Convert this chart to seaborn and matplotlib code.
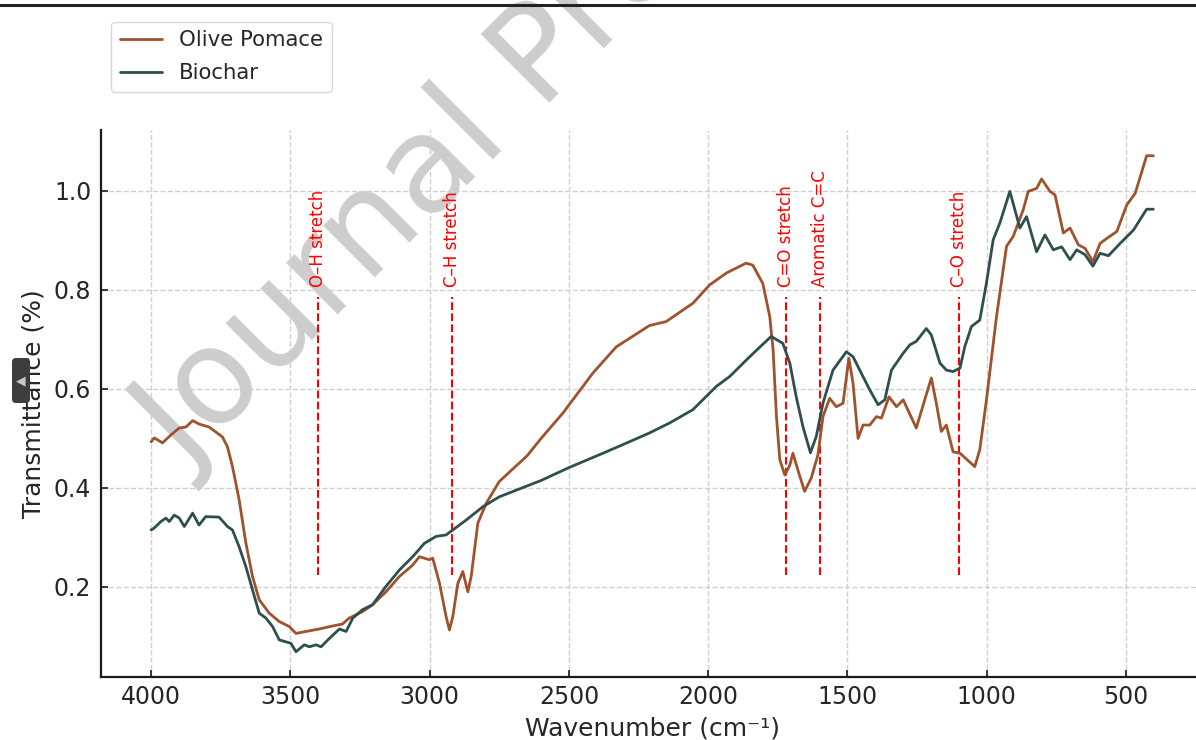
import matplotlib
matplotlib.use("Agg")
import matplotlib.pyplot as plt
import seaborn as sns
import pandas as pd
from matplotlib.lines import Line2D
from matplotlib.patches import FancyBboxPatch
from matplotlib.transforms import IdentityTransform

# --- data ---
wn_olive = [4000, 3989, 3959, 3929, 3899, 3875, 3851, 3828, 3792, 3744,
            3726, 3708, 3684, 3660, 3636, 3612, 3576, 3540, 3504, 3480,
            3444, 3396, 3349, 3313, 3289, 3241, 3205, 3157, 3109, 3061,
            3037, 3001, 2989, 2965, 2941, 2929, 2917, 2899, 2881, 2863,
            2851, 2827, 2797, 2750, 2650, 2600, 2522, 2414, 2330, 2211,
            2151, 2055, 1995, 1935, 1864, 1840, 1804, 1779, 1767, 1755,
            1743, 1725, 1707, 1696, 1678, 1654, 1630, 1606, 1588, 1564,
            1540, 1516, 1495, 1480, 1462, 1444, 1420, 1396, 1378, 1351,
            1324, 1300, 1253, 1199, 1181, 1163, 1145, 1121, 1096, 1043,
            1025, 1001, 965, 929, 905, 869, 851, 821, 803, 773,
            755, 725, 701, 671, 647, 619, 593, 569, 533, 497,
            467, 426, 402]
t_olive = [0.493, 0.501, 0.491, 0.507, 0.521, 0.523, 0.536, 0.529, 0.523, 0.503,
           0.483, 0.443, 0.376, 0.289, 0.221, 0.174, 0.147, 0.130, 0.120, 0.106,
           0.110, 0.115, 0.121, 0.125, 0.137, 0.150, 0.164, 0.190, 0.221, 0.244,
           0.261, 0.255, 0.258, 0.208, 0.140, 0.113, 0.140, 0.207, 0.231, 0.190,
           0.221, 0.329, 0.369, 0.413, 0.465, 0.500, 0.551, 0.632, 0.685, 0.728,
           0.736, 0.773, 0.810, 0.834, 0.854, 0.850, 0.813, 0.746, 0.679, 0.544,
           0.457, 0.426, 0.446, 0.470, 0.436, 0.393, 0.420, 0.467, 0.544, 0.581,
           0.564, 0.571, 0.662, 0.611, 0.500, 0.527, 0.527, 0.544, 0.541, 0.584,
           0.564, 0.578, 0.521, 0.622, 0.571, 0.514, 0.527, 0.473, 0.470, 0.443,
           0.477, 0.578, 0.746, 0.888, 0.908, 0.962, 0.999, 1.005, 1.024, 0.999,
           0.992, 0.915, 0.925, 0.891, 0.884, 0.857, 0.894, 0.904, 0.918, 0.972,
           0.995, 1.071, 1.071]

wn_biochar = [4000, 3989, 3965, 3947, 3935, 3917, 3899, 3881, 3851, 3828, 3804,
              3756, 3726, 3708, 3684, 3660, 3636, 3612, 3588, 3564, 3540,
              3516, 3498, 3480, 3450, 3432, 3408, 3390, 3360, 3324, 3300,
              3276, 3241, 3205, 3157, 3109, 3061, 3019, 2977, 2941, 2917,
              2869, 2809, 2750, 2600, 2500, 2378, 2300, 2211, 2139, 2055,
              1971, 1923, 1851, 1774, 1732, 1707, 1684, 1660, 1633, 1612,
              1588, 1552, 1504, 1480, 1456, 1420, 1390, 1366, 1342, 1300,
              1276, 1253, 1217, 1199, 1168, 1145, 1121, 1096, 1079, 1055,
              1025, 1001, 977, 953, 917, 881, 857, 821, 791, 761,
              731, 701, 677, 647, 619, 593, 563, 521, 473, 426, 402]
t_biochar = [0.315, 0.319, 0.332, 0.339, 0.332, 0.345, 0.339, 0.322, 0.349, 0.325, 0.342,
             0.341, 0.322, 0.315, 0.281, 0.241, 0.194, 0.147, 0.137, 0.120, 0.093,
             0.089, 0.086, 0.069, 0.083, 0.079, 0.083, 0.079, 0.096, 0.115, 0.110,
             0.137, 0.154, 0.164, 0.201, 0.234, 0.261, 0.288, 0.302, 0.305, 0.315,
             0.335, 0.362, 0.382, 0.415, 0.441, 0.470, 0.489, 0.511, 0.531, 0.558,
             0.605, 0.625, 0.665, 0.706, 0.692, 0.652, 0.584, 0.524, 0.471, 0.504,
             0.571, 0.638, 0.675, 0.665, 0.638, 0.598, 0.568, 0.578, 0.638, 0.672,
             0.689, 0.696, 0.722, 0.709, 0.652, 0.638, 0.635, 0.642, 0.685, 0.726,
             0.739, 0.814, 0.901, 0.935, 0.999, 0.925, 0.948, 0.877, 0.911, 0.881,
             0.887, 0.861, 0.881, 0.871, 0.848, 0.874, 0.869, 0.894, 0.921, 0.963, 0.963]

peak_wn = [3400, 2920, 1720, 1600, 1100]
peak_labels = ["O–H stretch", "C–H stretch", "C=O stretch", "Aromatic C=C", "C–O stretch"]

x_ticks = [4000, 3500, 3000, 2500, 2000, 1500, 1000, 500]
y_ticks = [0.2, 0.4, 0.6, 0.8, 1.0]

df = pd.concat([
    pd.DataFrame({"wn": wn_olive, "T": t_olive, "sample": "Olive Pomace"}),
    pd.DataFrame({"wn": wn_biochar, "T": t_biochar, "sample": "Biochar"}),
])

sns.set_theme(style="ticks")
plt.rcParams["font.family"] = ["DejaVu Sans"]
text_col = "#262626"

fig = plt.figure(figsize=(11.96, 7.4), dpi=100)
W, H = 1196, 740
ax = fig.add_axes([101 / W, 1 - 677 / H, (1204 - 101) / W, 547 / H])
ax.set_facecolor("none")

sns.lineplot(data=df, x="wn", y="T", hue="sample",
             hue_order=["Olive Pomace", "Biochar"],
             palette={"Olive Pomace": "sienna", "Biochar": "darkslategray"},
             linewidth=2, ax=ax, zorder=3)

# functional group markers
ax.vlines(peak_wn, 0.225, 0.785, colors="red", linestyles="--", lw=1.5, zorder=2)
for w, lab in zip(peak_wn, peak_labels):
    ax.text(w, 0.805, lab, rotation=90, ha="center", va="bottom",
            color="red", fontsize=12)

ax.set_xlim(4180, 220)
ax.set_ylim(0.018, 1.123)
ax.set_xticks(x_ticks)
ax.set_yticks(y_ticks)
ax.set_yticklabels([f"{v:.1f}" for v in y_ticks])
ax.grid(True, linestyle="--", color="#cfcfcf", lw=1)
for s in ["top", "right"]:
    ax.spines[s].set_visible(False)
for s in ["left", "bottom"]:
    ax.spines[s].set_color("#1a1a1a")
    ax.spines[s].set_linewidth(1.6)
ax.tick_params(axis="both", direction="in", length=5, width=1.2,
               labelsize=17, labelcolor=text_col, color="#1a1a1a")
ax.tick_params(axis="x", pad=6)
ax.tick_params(axis="y", pad=7)
ax.set_xlabel("Wavenumber (cm⁻¹)", fontsize=18, color=text_col, labelpad=5)
ax.set_ylabel("Transmittance (%)", fontsize=18, color=text_col, labelpad=6)

sns.move_legend(ax, loc="upper left", bbox_to_anchor=((111 - 101) / 1103, (677 - 22) / 547),
                borderaxespad=0, title=None, fontsize=15.3, frameon=True, labelspacing=0.6)
leg = ax.get_legend()
leg.get_frame().set_edgecolor("#d0d0d0")
for t in leg.get_texts():
    t.set_color(text_col)

# page decorations: watermark, top rule, side tab
fig.text(187 / W, 1 - 472 / H, "Journal Pre-proof", fontsize=96, color="#cdcdcd",
         rotation=45, rotation_mode="anchor", ha="left", va="baseline", zorder=-1)
fig.add_artist(Line2D([0, 1], [1 - 5 / H, 1 - 5 / H], transform=fig.transFigure,
                      color="#222222", lw=2.2))
fig.add_artist(FancyBboxPatch((12, H - 403), 18, 45, boxstyle="round,pad=0,rounding_size=4",
                              transform=IdentityTransform(), fc="#3d3d3d", ec="none", zorder=10))
fig.text(21 / W, 1 - 381 / H, "◀", color="#c8c8c8", fontsize=9, ha="center", va="center", zorder=11)

fig.savefig("out.png", dpi=100)
